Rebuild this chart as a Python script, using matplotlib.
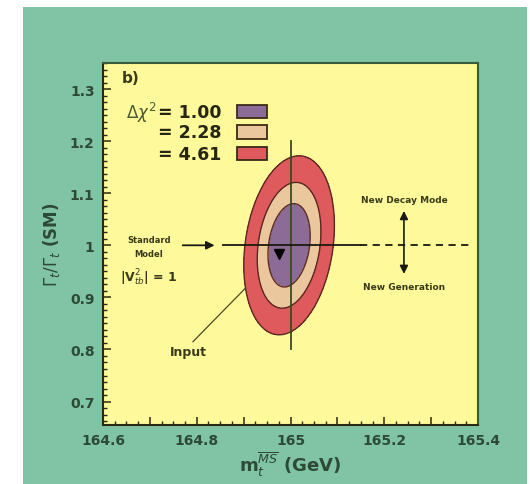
import numpy as np
import matplotlib
matplotlib.use('Agg')
import matplotlib.pyplot as plt
from matplotlib.patches import Rectangle
from matplotlib.ticker import MultipleLocator, FuncFormatter

# ---------------- data ----------------
chi2_levels = [1.00, 2.28, 4.61]
level_labels = ['1.00', '2.28', '4.61']
level_colors = ['#8d6b97', '#eac79c', '#df5a5c']
fit_center = (164.997, 1.0)      # (m_t, Gamma_t/Gamma_t(SM))
fit_sigma = (0.045, 0.080)
fit_rho = 0.22
input_point = (164.975, 0.983)
sm_ratio = 1.0
m_ref = 165.0
m_ref_span = (0.80, 1.20)
sm_arrow_x = (164.77, 164.838)
sm_solid_x = (164.855, 165.148)
sm_dash_x = (165.148, 165.39)
bsm_arrow_x = 165.242
bsm_arrow_y = (0.945, 1.066)
input_label_pos = (164.783, 0.797)
input_line_start = (164.792, 0.815)
x_range = (164.6, 165.4)
y_range = (0.655, 1.35)

GREEN = '#80c4a5'
YELLOW = '#fefa9c'
DARK = '#2c4a36'
TXT = '#3a3a18'
EDGE = '#5a2a22'

W, H = 530, 485
fig = plt.figure(figsize=(W / 100, H / 100), dpi=100)
fig.patch.set_facecolor('white')
fig.add_artist(Rectangle((23 / W, 0), (527 - 23) / W, (H - 8) / H,
                         transform=fig.transFigure, facecolor=GREEN,
                         edgecolor='none', zorder=-10))

ax = fig.add_axes([103 / W, (H - 426) / H, (478 - 103) / W, (426 - 64) / H])
ax.set_facecolor(YELLOW)
ax.set_xlim(*x_range)
ax.set_ylim(*y_range)

# chi2 surface of the fit
xs = np.linspace(x_range[0], x_range[1], 700)
ys = np.linspace(y_range[0], y_range[1], 700)
X, Y = np.meshgrid(xs, ys)
dx = (X - fit_center[0]) / fit_sigma[0]
dy = (Y - fit_center[1]) / fit_sigma[1]
chi2 = (dx ** 2 - 2 * fit_rho * dx * dy + dy ** 2) / (1 - fit_rho ** 2)

# Input pointer line (hidden under the contours)
ax.plot([input_line_start[0], input_point[0]], [input_line_start[1], input_point[1]],
        color='#4a4a20', lw=0.9, zorder=1)
ax.text(*input_label_pos, 'Input', ha='center', va='center', fontsize=9,
        fontweight='bold', color=TXT, zorder=5)

ax.contourf(X, Y, chi2, levels=[0] + chi2_levels, colors=level_colors, zorder=2)
ax.contour(X, Y, chi2, levels=chi2_levels, colors=EDGE, linewidths=1.0, zorder=2.5)

# cross-hair
ax.plot([m_ref, m_ref], m_ref_span, color='#3a4a20', lw=1.3, zorder=3)
ax.plot(sm_solid_x, [sm_ratio, sm_ratio], color='#1a1a10', lw=1.3, zorder=3)
ax.plot(sm_dash_x, [sm_ratio, sm_ratio], color='#1a1a10', lw=1.3, ls=(0, (4, 3)), zorder=3)
ax.annotate('', xy=(sm_arrow_x[1], sm_ratio), xytext=(sm_arrow_x[0], sm_ratio),
            arrowprops=dict(arrowstyle='-|>', color='#1a1a10', lw=1.3,
                            mutation_scale=12, shrinkA=0, shrinkB=0), zorder=3)
ax.annotate('', xy=(bsm_arrow_x, bsm_arrow_y[1]), xytext=(bsm_arrow_x, bsm_arrow_y[0]),
            arrowprops=dict(arrowstyle='<|-|>', color='#1a1a10', lw=1.2,
                            mutation_scale=12, shrinkA=0, shrinkB=0), zorder=3)

ax.plot(*input_point, marker='v', color='black', markersize=7, zorder=4)

# annotations
ax.text(164.698, 1.011, 'Standard', ha='center', va='center', fontsize=6,
        fontweight='bold', color=TXT)
ax.text(164.698, 0.984, 'Model', ha='center', va='center', fontsize=6,
        fontweight='bold', color=TXT)
ax.text(164.698, 0.940, r'|V$_{tb}^{2}$| = 1', ha='center', va='center', fontsize=9,
        fontweight='bold', color=TXT)
ax.text(bsm_arrow_x, 1.088, 'New Decay Mode', ha='center', va='center', fontsize=6.5,
        fontweight='bold', color=TXT)
ax.text(bsm_arrow_x, 0.921, 'New Generation', ha='center', va='center', fontsize=6.5,
        fontweight='bold', color=TXT)

# panel label and legend
ax.text(0.05, 0.961, 'b)', transform=ax.transAxes, ha='left', va='center',
        fontsize=11, fontweight='bold', color=TXT)
legend_y = [0.866, 0.809, 0.750]
for i, (lab, col, yy) in enumerate(zip(level_labels, level_colors, legend_y)):
    ax.text(0.317, yy, '= ' + lab, transform=ax.transAxes, ha='right', va='center',
            fontsize=12.5, fontweight='bold', color='#262612', zorder=6)
    ax.add_patch(Rectangle((0.357, yy - 0.019), 0.08, 0.038, transform=ax.transAxes,
                           facecolor=col, edgecolor='#3a2a18', lw=1.3, zorder=6))
ax.text(0.06, 0.866, r'$\Delta\chi^2$', transform=ax.transAxes, ha='left', va='center',
        fontsize=12, color='#4a5a30', zorder=6)

# ticks
def fmt(v, pos):
    if round(v * 10) % 2:
        return ''
    return '%g' % round(v, 2)

ax.xaxis.set_major_locator(MultipleLocator(0.1))
ax.xaxis.set_major_formatter(FuncFormatter(fmt))
ax.xaxis.set_minor_locator(MultipleLocator(0.025))
ax.yaxis.set_major_locator(MultipleLocator(0.1))
ax.yaxis.set_major_formatter(FuncFormatter(lambda v, p: '%g' % round(v, 2)))
ax.yaxis.set_minor_locator(MultipleLocator(0.0125))
ax.tick_params(which='both', direction='in', color='#2a2a10', top=False, right=False)
ax.tick_params(which='major', length=6, width=1.1, labelsize=10, labelcolor=DARK, pad=6)
ax.tick_params(which='minor', length=3, width=1.0)
for lab in ax.get_xticklabels() + ax.get_yticklabels():
    lab.set_fontweight('bold')

for s in ['left', 'bottom']:
    ax.spines[s].set_color('#2a2a10')
    ax.spines[s].set_linewidth(1.5)
for s in ['top', 'right']:
    ax.spines[s].set_color('#3a5a3a')
    ax.spines[s].set_linewidth(1.5)

ax.set_xlabel(r'm$_t^{\overline{MS}}$ (GeV)', fontsize=13, fontweight='bold',
              color=DARK, labelpad=2)
ax.set_ylabel(r'$\Gamma_t/\Gamma_t$ (SM)', fontsize=12, fontweight='bold',
              color=DARK, labelpad=6)

fig.savefig('out.png', dpi=100, facecolor=fig.get_facecolor())
